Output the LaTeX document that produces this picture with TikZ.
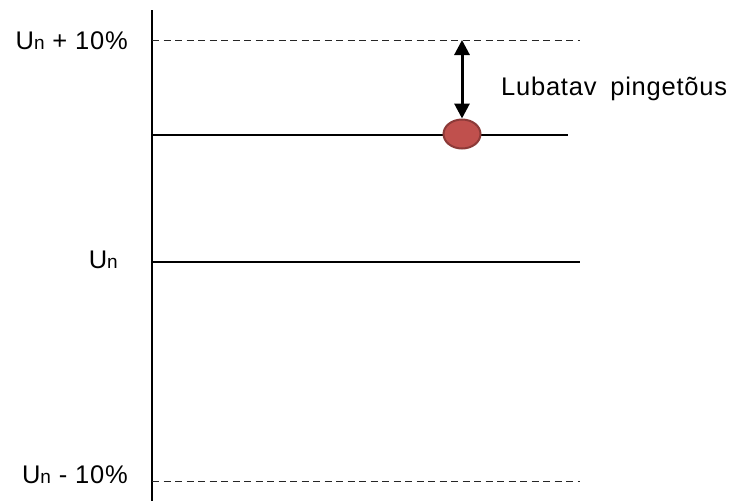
\documentclass[tikz,border=0pt]{standalone}
\usepackage{fontspec}
\setmainfont[LetterSpace=3]{Liberation Sans}
\usepackage{xcolor}
\usetikzlibrary{arrows.meta,positioning,shapes.geometric}
\definecolor{dotred}{HTML}{C0504D}
\definecolor{dotedge}{HTML}{8C3A38}
\newcommand{\Un}{U{\fontsize{19}{20}\selectfont n}}

\begin{document}
\begin{tikzpicture}[
    x=1pt, y=-1pt,
    font=\fontsize{25.5}{30}\selectfont,
    >={Triangle[length=15pt, width=15pt]},
    % Styles
    axis/.style={line width=2pt, draw=black},
    level/.style={line width=1.4pt, draw=black},
    limit/.style={line width=1pt, draw=black!85, dash pattern=on 7pt off 4.5pt},
    tag/.style={anchor=base east, inner sep=0pt},
    dot/.style={ellipse, fill=dotred, draw=dotedge, line width=2pt, minimum width=37pt, minimum height=29pt, inner sep=0pt},
    arrow/.style={<->, line width=3pt, draw=black}
]
\useasboundingbox (0,0) rectangle (738,501);

% --- Axis ---
\coordinate (axis_top) at (152,10);
\coordinate (axis_bot) at (152,501);
\draw[axis] (axis_top) -- (axis_bot);

% --- Level ends ---
\coordinate (up_start) at (152,40);
\coordinate (up_end) at (580,40);
\coordinate (now_start) at (152,135);
\coordinate (now_end) at (568,135);
\coordinate (nom_start) at (152,262);
\coordinate (nom_end) at (580,262);
\coordinate (low_start) at (152,481);
\coordinate (low_end) at (580,481);

% --- Levels ---
\draw[limit] (up_start) -- (up_end);
\draw[level] (now_start) -- (now_end);
\draw[level] (nom_start) -- (nom_end);
\draw[limit] (low_start) -- (low_end);

% --- Labels ---
\node[tag] (up_lbl) at (128,49) {\Un{} + 10\%};
\node[tag] (nom_lbl) at (118,268) {\Un};
\node[tag] (low_lbl) at (128,483) {\Un{} - 10\%};

% --- Current value and allowed rise ---
\node[dot] (dot) at (462,134) {};
\coordinate (rise_top) at (462,40);
\draw[arrow] (rise_top) -- (dot.north);
\node[anchor=base west, inner sep=0pt] (rise_lbl) at (501,95) {Lubatav\hspace{6pt} pingetõus};

\end{tikzpicture}
\end{document}
